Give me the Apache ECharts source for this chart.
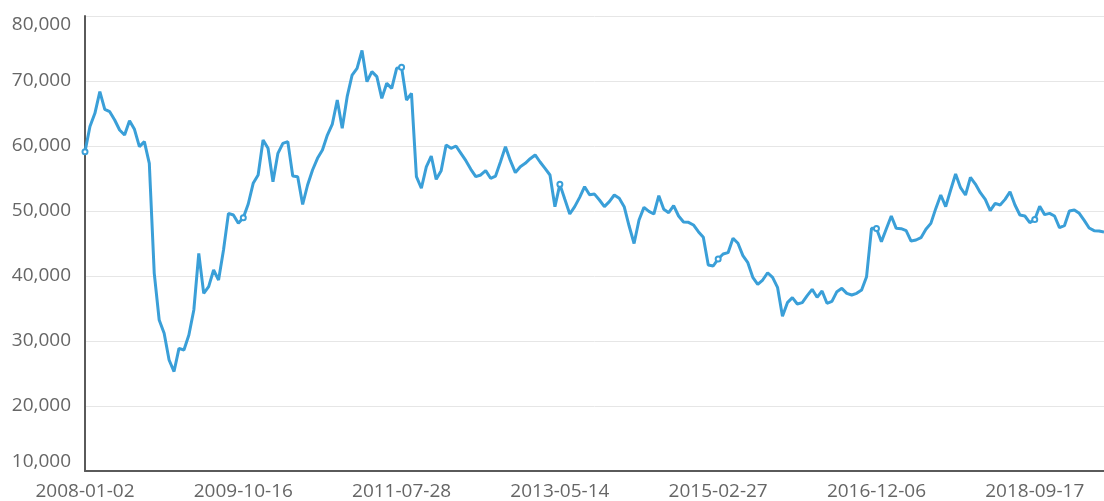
<!DOCTYPE html>
<html>
<head>
<meta charset="utf-8">
<script src="https://cdn.jsdelivr.net/npm/echarts@6/dist/echarts.min.js"></script>
<style>
  html, body { margin: 0; padding: 0; background: #ffffff; }
  #chart { width: 1104px; height: 501px; }
</style>
</head>
<body>
<div id="chart"></div>
<script>
// Tick label dates (every 32nd category)
const tickLabels = ['2008-01-02', '2009-10-16', '2011-07-28', '2013-05-14', '2015-02-27', '2016-12-06', '2018-09-17'];
const yTicks = [10000, 20000, 30000, 40000, 50000, 60000, 70000, 80000];

// Price values (one per category)
const prices = [
  59130, 63000, 65030, 68360, 65640, 65280, 64000, 62460, 61690, 63900,
  62560, 59900, 60670, 57330, 40410, 33230, 31180, 27080, 25300, 28870,
  28620, 30920, 34770, 43490, 37330, 38360, 40920, 39390, 44000, 49640,
  49390, 48100, 48970, 51080, 54260, 55540, 60920, 59640, 54500, 58870,
  60410, 60670, 55380, 55280, 51000, 54000, 56310, 58100, 59380, 61690,
  63380, 67080, 62720, 67590, 70920, 71950, 74700, 69900, 71440, 70670,
  67330, 69640, 68870, 71950, 72100, 67080, 68100, 55300, 53500, 56800,
  58460, 54870, 56210, 60150, 59640, 60000, 58870, 57740, 56410, 55280,
  55540, 56210, 55030, 55380, 57590, 59900, 57740, 55900, 56820, 57330,
  58050, 58620, 57540, 56560, 55540, 50670, 54100, 51800, 49540, 50670,
  52100, 53740, 52500, 52600, 51690, 50670, 51440, 52460, 51950, 50670,
  47690, 45000, 48620, 50560, 49950, 49540, 52360, 50260, 49740, 50820,
  49230, 48310, 48260, 47850, 46820, 45950, 41690, 41540, 42620, 43380,
  43590, 45800, 45030, 43130, 42050, 39800, 38720, 39380, 40500, 39790,
  38260, 33800, 35900, 36670, 35690, 35900, 36970, 37950, 36720, 37690,
  35800, 36100, 37590, 38100, 37330, 37080, 37330, 37850, 39900, 47330,
  47300, 45280, 47280, 49230, 47330, 47280, 46970, 45380, 45540, 45900,
  47180, 48100, 50400, 52460, 50670, 53230, 55700, 53590, 52460, 55180,
  54150, 52820, 51790, 50050, 51180, 50920, 51790, 52970, 50920, 49380,
  49230, 48210, 48700, 50720, 49440, 49640, 49230, 47440, 47740, 50000,
  50150, 49640, 48560, 47380, 46970, 46920, 46770
];

const STEP = 32; // categories between labelled dates

// Build category date strings: labelled dates at every STEP-th position,
// the in-between categories are spread between them (names only).
function fmt(d) {
  const p = n => String(n).padStart(2, '0');
  return d.getUTCFullYear() + '-' + p(d.getUTCMonth() + 1) + '-' + p(d.getUTCDate());
}
const anchorMs = tickLabels.map(s => Date.parse(s + 'T00:00:00Z'));
const categories = [];
for (let i = 0; i < prices.length; i++) {
  const seg = Math.min(Math.floor(i / STEP), anchorMs.length - 2);
  const a = anchorMs[seg], b = anchorMs[seg + 1];
  const t = (i - seg * STEP) / STEP;
  if (i % STEP === 0 && i / STEP < tickLabels.length) {
    categories.push(tickLabels[i / STEP]);
  } else {
    categories.push(fmt(new Date(a + (b - a) * t)));
  }
}

const labelFont = { fontFamily: 'Open Sans', fontSize: 19, color: '#666666' };
const chart = echarts.init(document.getElementById('chart'), null, { renderer: 'canvas' });
chart.setOption({
  animation: false,
  backgroundColor: '#ffffff',
  grid: { left: 85, right: 0, top: 16, bottom: 30, containLabel: false, outerBoundsMode: 'none' },
  xAxis: {
    type: 'category',
    data: categories,
    boundaryGap: false,
    axisLine: { show: true, lineStyle: { color: '#5a5a5a', width: 2 } },
    axisTick: { show: false },
    axisLabel: Object.assign({ interval: STEP - 1, margin: 11, hideOverlap: false }, labelFont),
    splitLine: { show: false }
  },
  yAxis: {
    type: 'value',
    min: yTicks[0],
    max: yTicks[yTicks.length - 1],
    interval: yTicks[1] - yTicks[0],
    axisLine: { show: true, lineStyle: { color: '#5a5a5a', width: 2 } },
    axisTick: { show: false },
    axisLabel: Object.assign({
      margin: 14,
      formatter: function (v) {
        const s = v.toLocaleString('en-US');
        if (v === yTicks[0]) return '{lo|' + s + '}';
        if (v === yTicks[yTicks.length - 1]) return '{hi|' + s + '}';
        return s;
      },
      rich: {
        lo: Object.assign({ padding: [0, 0, 18, 0] }, labelFont),
        hi: Object.assign({ padding: [17, 0, 0, 0] }, labelFont)
      }
    }, labelFont),
    splitLine: { show: true, lineStyle: { color: '#e6e6e6', width: 1 } }
  },
  series: [{
    type: 'line',
    data: prices,
    symbol: 'emptyCircle',
    symbolSize: 5,
    showAllSymbol: 'auto',
    lineStyle: { color: '#3a9fd8', width: 3 },
    itemStyle: { color: '#3a9fd8', borderWidth: 1.5 }
  }]
});
</script>
</body>
</html>
